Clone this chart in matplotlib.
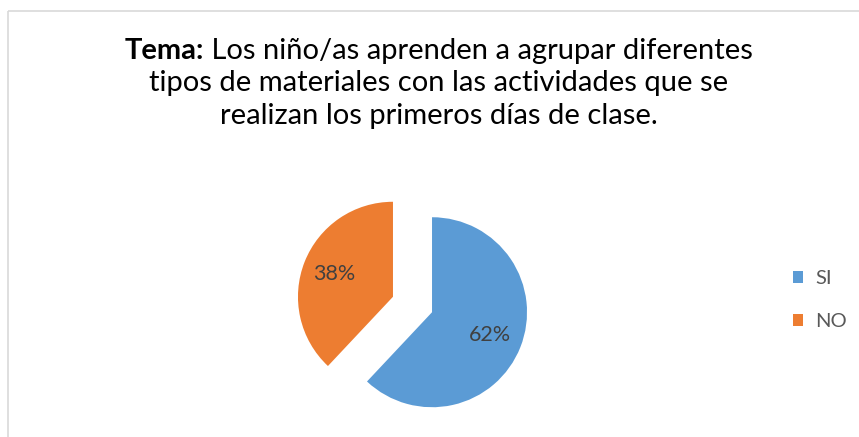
import matplotlib.pyplot as plt
from matplotlib.patches import Rectangle

labels = ["SI", "NO"]
values = [62, 38]
colors = ["#5B9BD5", "#ED7D31"]

title_bold = "Tema:"
title_line1 = "Los niño/as aprenden a agrupar diferentes"
title_line2 = "tipos de materiales con las actividades que se"
title_line3 = "realizan los primeros días de clase."

W, H = 859, 437
plt.rcParams['font.family'] = ['Lato', 'DejaVu Sans']

fig = plt.figure(figsize=(W / 100, H / 100), dpi=100)
fig.patch.set_facecolor("white")

# overlay in pixel coords (y down)
bg = fig.add_axes([0, 0, 1, 1])
bg.set_xlim(0, W)
bg.set_ylim(H, 0)
bg.axis("off")
bg.add_patch(Rectangle((8, 10.5), W + 20, H + 20, fill=False,
                       edgecolor="#D9D9D9", linewidth=1.2))

tsize = 21
cx = 439
rest = bg.text(0, 59, " " + title_line1, fontsize=tsize, va="baseline", ha="left", color="black")
bold = bg.text(0, 59, title_bold, fontsize=tsize, va="baseline", ha="left",
               color="black", fontweight="bold")
fig.canvas.draw()
r = fig.canvas.get_renderer()
wb = bold.get_window_extent(r).width
wr = rest.get_window_extent(r).width
x0 = cx - (wb + wr) / 2
bold.set_x(x0)
rest.set_x(x0 + wb)
bg.text(cx, 91.5, title_line2, fontsize=tsize, va="baseline", ha="center", color="black")
bg.text(cx, 124, title_line3, fontsize=tsize, va="baseline", ha="center", color="black")

# pie axes, 300x300 px centred on the pie
S = 300
pcx, pcy = 412.5, 304.5
ax = fig.add_axes([(pcx - S / 2) / W, (H - pcy - S / 2) / H, S / W, S / H])
wedges, texts, autotexts = ax.pie(values, colors=colors, startangle=90, counterclock=False,
                                  radius=0.95, explode=[0.21, 0.21], autopct="%1.0f%%",
                                  pctdistance=0.66,
                                  textprops={"fontsize": 15.5, "color": "#404040"})
ax.set_xlim(-1.5, 1.5)
ax.set_ylim(-1.5, 1.5)
ax.set_aspect("equal")
ax.axis("off")

leg = fig.legend(wedges, labels, loc="center left", bbox_to_anchor=(793 / W, 1 - 300 / H),
                 frameon=False, fontsize=14.5, handlelength=0.5, handleheight=0.5,
                 handletextpad=0.6, labelspacing=1.3, labelcolor="#595959",
                 borderpad=0, borderaxespad=0)

fig.savefig("out.png", dpi=100)
